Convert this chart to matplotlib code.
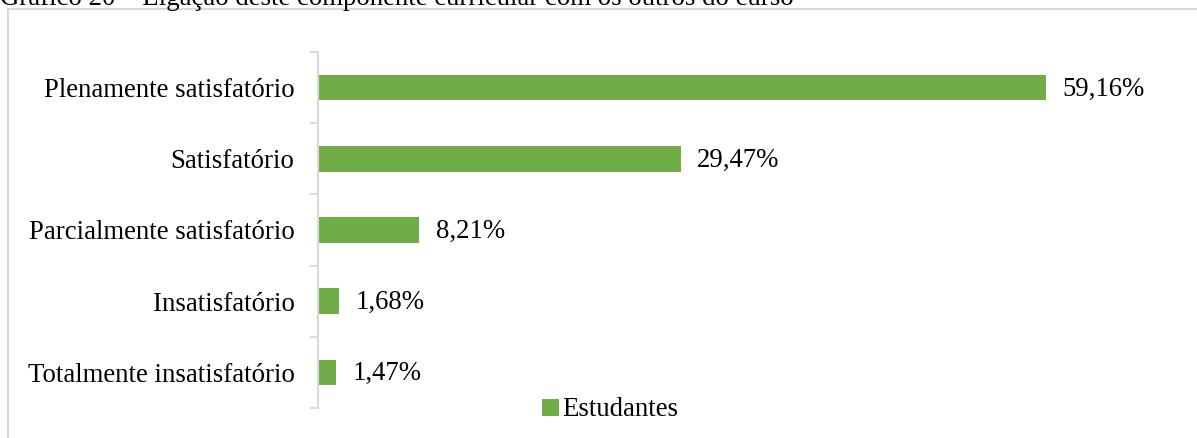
import matplotlib.pyplot as plt
from matplotlib.patches import Rectangle

# dados do gráfico
categorias = ["Plenamente satisfatório", "Satisfatório", "Parcialmente satisfatório",
              "Insatisfatório", "Totalmente insatisfatório"]
valores = [59.16, 29.47, 8.21, 1.68, 1.47]
rotulos = ["59,16%", "29,47%", "8,21%", "1,68%", "1,47%"]
serie = "Estudantes"
titulo = "Gráfico 20 – Ligação deste componente curricular com os outros do curso"

verde = "#70AD47"
cinza = "#D9D9D9"
fs = 19.3

plt.rcParams['font.family'] = ['Liberation Serif', 'DejaVu Serif']

fig = plt.figure(figsize=(11.97, 4.38), dpi=100)
ax = fig.add_axes([0.2657, 0.0685, 0.7193, 0.8128])

# moldura do gráfico
fig.patches.append(Rectangle((8 / 1197, -0.1), 1.2, 0.1 + 1 - 9 / 438,
                             transform=fig.transFigure, fill=False,
                             edgecolor=cinza, linewidth=1.5))
fig.text(0.0, 1 - 5 / 438, titulo, fontsize=fs, va='baseline', ha='left')

y = list(range(len(categorias)))
barras = ax.barh(y, valores, height=0.36, color=verde, label=serie)
for b, r in zip(barras, rotulos):
    ax.annotate(r, (b.get_width(), b.get_y() + b.get_height() / 2),
                xytext=(12, -1), textcoords='offset points',
                va='center', ha='left', fontsize=fs)

ax.set_xlim(0, 70)
ax.set_ylim(len(categorias) - 0.5, -0.5)
ax.set_yticks(y)
ax.set_yticklabels(categorias, fontsize=fs)
ax.tick_params(axis='y', which='major', length=0, pad=17)
ax.set_yticks([i - 0.5 for i in range(len(categorias) + 1)], minor=True)
ax.tick_params(axis='y', which='minor', length=6, width=1.5, color=cinza)
ax.set_xticks([])
for s in ['top', 'right', 'bottom']:
    ax.spines[s].set_visible(False)
ax.spines['left'].set_color(cinza)
ax.spines['left'].set_linewidth(1.5)

fig.legend(loc='center', bbox_to_anchor=(0.51, 0.064), frameon=False,
           fontsize=fs, handlelength=0.6, handleheight=0.6, handletextpad=0.15)

fig.savefig("out.png", dpi=100)
